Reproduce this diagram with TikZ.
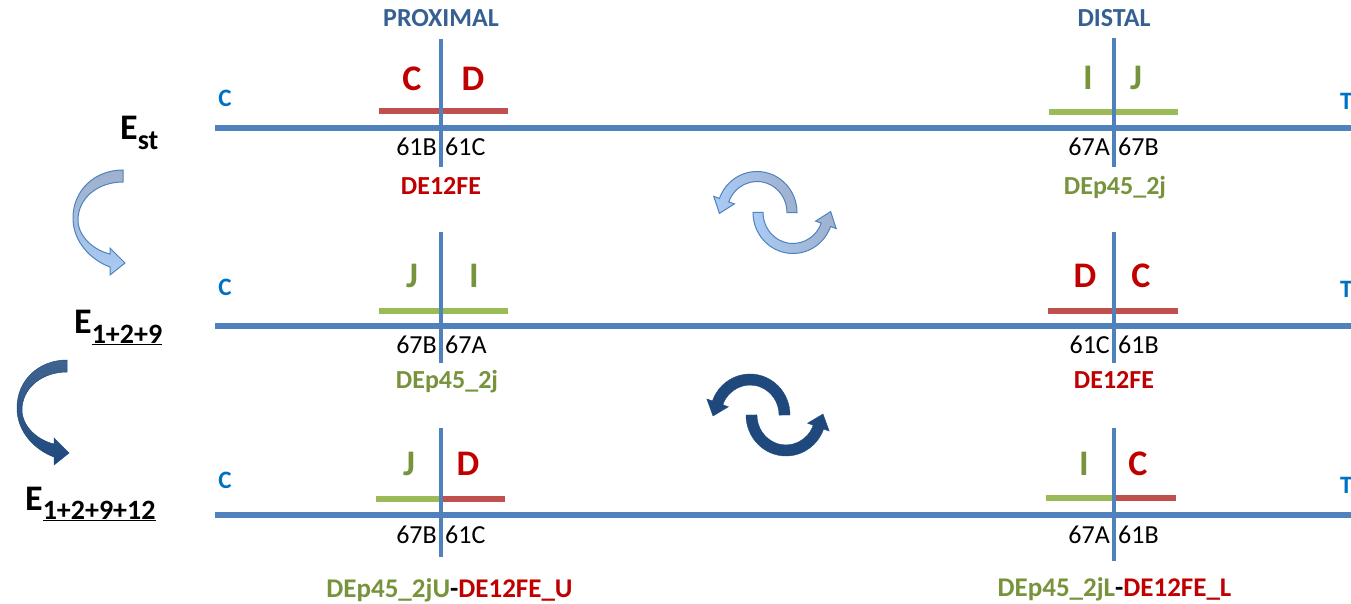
\documentclass[tikz,border=0pt]{standalone}
\usepackage{fontspec}
\setmainfont{Carlito}
\definecolor{axisblue}{HTML}{4F81BD}
\definecolor{headblue}{HTML}{376092}
\definecolor{endblue}{HTML}{0070C0}
\definecolor{barred}{HTML}{C0504D}
\definecolor{bargreen}{HTML}{9BBB59}
\definecolor{tred}{HTML}{C00000}
\definecolor{tgreen}{HTML}{77933C}
\definecolor{navy}{HTML}{1F497D}
\definecolor{paleblue}{HTML}{A9CBF5}
\definecolor{greyblue}{HTML}{9FB0CC}
\newcommand{\subsize}{\fontsize{28}{28}\selectfont}
\tikzset{
  axis/.style={draw=axisblue, line width=6pt},
  divider/.style={draw=axisblue, line width=4.5pt},
  redbar/.style={draw=barred, line width=6.5pt},
  greenbar/.style={draw=bargreen, line width=6.5pt},
  letter/.style={font=\fontsize{36}{36}\selectfont\bfseries, anchor=base, inner sep=0pt},
  num/.style={font=\fontsize{26}{26}\selectfont, inner sep=0pt},
  tag/.style={font=\fontsize{26}{26}\selectfont\bfseries, anchor=base, inner sep=0pt},
  longtag/.style={tag, font=\fontsize{27}{27}\selectfont\bfseries},
  heading/.style={font=\fontsize{26}{26}\selectfont\bfseries, text=headblue, anchor=base, inner sep=0pt},
  endlbl/.style={font=\fontsize{25}{25}\selectfont\bfseries, text=endblue, inner sep=0pt},
  elabel/.style={font=\fontsize{36}{36}\selectfont\bfseries, anchor=base west, inner sep=0pt},
  lightfill/.style={draw=axisblue, line width=1pt, left color=paleblue, right color=greyblue},
  darkfill/.style={draw=navy, line width=0.4pt, fill=navy},
  % half of the swap cycle: an arc over the top ending in a head at the left
  lighthalf/.pic={
    \path[lightfill] (22,0) arc[start angle=0, end angle=-160, x radius=40, y radius=41]
      -- (-61.2,-16.1) -- (-55.6,0.9) -- (-40.6,-8.6) -- (-46.2,-10.6)
      arc[start angle=-160, end angle=0, x radius=30, y radius=31] -- cycle;
  },
  darkhalf/.pic={
    \path[darkfill] (22,0) arc[start angle=0, end angle=-160, x radius=40, y radius=41]
      -- (-61.2,-16.1) -- (-55.0,1.0) -- (-39.6,-8.2) -- (-45.2,-10.2)
      arc[start angle=-160, end angle=0, x radius=29, y radius=30] -- cycle;
  },
  % bent arrow between the event labels
  bendarrow/.pic={
    \path[pic actions] (0,0) .. controls (-28,0) and (-50,20) .. (-50,48)
      .. controls (-50,72) and (-32,90) .. (-13,97) -- (-13,105) -- (2,93)
      -- (-13,78) -- (-13,84) .. controls (-30,80) and (-45,66) .. (-45,50)
      .. controls (-45,28) and (-25,12) .. (0,12) -- cycle;
  }
}
\begin{document}
\begin{tikzpicture}[x=1pt, y=-1pt]
\useasboundingbox (0,0) rectangle (1351,604);

% ---------- headings ----------
\node[heading] (prox) at (441,27) {PROXIMAL};
\node[heading] (dist) at (1114,27) {DISTAL};

% ---------- row 1 : E_st ----------
\draw[redbar] (379,111) -- (508,111);
\draw[greenbar] (1049,112) -- (1178,112);
\draw[axis] (215,128) -- (1360,128);
\draw[divider] (441,39) -- (441,167);
\draw[divider] (1114,38) -- (1114,167);
\node[endlbl, anchor=base] (c1) at (225,107) {C};
\node[endlbl, anchor=base west] (t1) at (1340,110) {T};
\node[letter, text=tred] (p1a) at (412,91) {C};
\node[letter, text=tred] (p1b) at (473,91) {D};
\node[letter, text=tgreen] (d1a) at (1088,90) {I};
\node[letter, text=tgreen] (d1b) at (1136,90) {J};
\node[num, anchor=base east] (p1l) at (437,156) {61B};
\node[num, anchor=base west] (p1r) at (445,156) {61C};
\node[num, anchor=base east] (d1l) at (1110,156) {67A};
\node[num, anchor=base west] (d1r) at (1118,156) {67B};
\node[tag, text=tred] (p1t) at (441,195) {DE12FE};
\node[tag, text=tgreen] (d1t) at (1115,195) {DEp45\_2j};

% ---------- row 2 : E_1+2+9 ----------
\draw[greenbar] (379,311) -- (508,311);
\draw[redbar] (1048,311) -- (1178,311);
\draw[axis] (215,325.5) -- (1360,325.5);
\draw[divider] (441,232) -- (441,363);
\draw[divider] (1114,232) -- (1114,363);
\node[endlbl, anchor=base] (c2) at (225,295) {C};
\node[endlbl, anchor=base west] (t2) at (1340,297) {T};
\node[letter, text=tgreen] (p2a) at (412,287) {J};
\node[letter, text=tgreen] (p2b) at (474,287) {I};
\node[letter, text=tred] (d2a) at (1085,287) {D};
\node[letter, text=tred] (d2b) at (1141,287) {C};
\node[num, anchor=base east] (p2l) at (437,353) {67B};
\node[num, anchor=base west] (p2r) at (445,353) {67A};
\node[num, anchor=base east] (d2l) at (1110,353) {61C};
\node[num, anchor=base west] (d2r) at (1118,353) {61B};
\node[tag, text=tgreen] (p2t) at (447,388) {DEp45\_2j};
\node[tag, text=tred] (d2t) at (1114,388) {DE12FE};

% ---------- row 3 : E_1+2+9+12 ----------
\draw[greenbar] (376,499) -- (441,499);
\draw[redbar] (441,499) -- (505,499);
\draw[greenbar] (1046,498) -- (1112,498);
\draw[redbar] (1112,498) -- (1176,498);
\draw[axis] (215,515) -- (1360,515);
\draw[divider] (441,428) -- (441,557);
\draw[divider] (1114,428) -- (1114,561);
\node[endlbl, anchor=base] (c3) at (225,488) {C};
\node[endlbl, anchor=base west] (t3) at (1340,493) {T};
\node[letter, text=tgreen] (p3a) at (409,475) {J};
\node[letter, text=tred] (p3b) at (468,475) {D};
\node[letter, text=tgreen] (d3a) at (1084,475) {I};
\node[letter, text=tred] (d3b) at (1138,475) {C};
\node[num, anchor=base east] (p3l) at (437,543) {67B};
\node[num, anchor=base west] (p3r) at (445,543) {61C};
\node[num, anchor=base east] (d3l) at (1110,543) {67A};
\node[num, anchor=base west] (d3r) at (1118,543) {61B};
\node[longtag] (p3t) at (449.5,597) {\textcolor{tgreen}{DEp45\_2jU}-\textcolor{tred}{DE12FE\_U}};
\node[longtag] (d3t) at (1114.5,596) {\textcolor{tgreen}{DEp45\_2jL}-\textcolor{tred}{DE12FE\_L}};

% ---------- event labels ----------
\node[elabel] (est) at (120,140) {E\raisebox{-10pt}{\subsize st}};
\node[elabel] (e129) at (74,333) {E\raisebox{-10pt}{\subsize\underline{1+2+9}}};
\node[elabel] (e12912) at (25,510) {E\raisebox{-9pt}{\subsize\underline{1+2+9+12}}};

% ---------- bent arrows between events ----------
\pic[draw=axisblue, line width=1pt, top color=greyblue, bottom color=paleblue] at (123,170) {bendarrow};
\pic[draw=navy, line width=0.5pt, top color=navy!85!white, bottom color=navy] at (67,360) {bendarrow};

% ---------- swap cycles ----------
\pic at (775,212.5) {lighthalf};
\pic[rotate=180] at (775,212.5) {lighthalf};
\pic at (768,415) {darkhalf};
\pic[rotate=180] at (768,415) {darkhalf};
\end{tikzpicture}
\end{document}
